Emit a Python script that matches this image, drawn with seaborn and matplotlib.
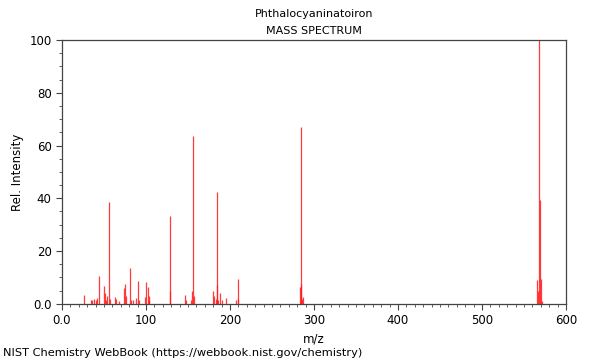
import numpy as np
import pandas as pd
import matplotlib
matplotlib.use('Agg')
import matplotlib.pyplot as plt
import seaborn as sns
from matplotlib.ticker import MultipleLocator, FuncFormatter

mz = [26, 35, 36, 38, 40, 42, 44, 50, 51, 52, 54, 56, 57, 63, 64, 68,
      74, 75, 76, 81, 82, 84, 88, 91, 92, 99, 100, 102, 103, 104,
      128, 129, 146, 148, 154, 155, 156, 157,
      180, 181, 183, 184, 185, 186, 188, 190, 195, 207, 209, 210,
      283, 284, 285, 286, 287,
      566, 567, 568, 569, 570, 571]
intensity = [3.5, 1.3, 1.3, 2.0, 1.6, 2.3, 10.5, 6.8, 4.0, 1.5, 3.0, 38.5, 2.0, 2.5, 2.0, 1.0,
             6.0, 7.6, 2.8, 13.5, 1.3, 1.3, 2.3, 8.5, 1.5, 2.5, 8.2, 6.3, 2.8, 1.3,
             33.3, 4.7, 3.4, 1.3, 1.3, 5.0, 63.5, 3.0,
             4.8, 2.8, 2.0, 42.5, 7.0, 1.3, 4.0, 1.3, 2.3, 1.3, 9.3, 2.0,
             6.5, 67.0, 7.5, 2.0, 2.5,
             9.0, 5.0, 100.0, 39.5, 9.5, 1.0]

df = pd.DataFrame({'mz': mz, 'intensity': intensity})

sns.set_style('ticks')
plt.rcParams['font.family'] = ['DejaVu Sans']
plt.rcParams['text.color'] = 'black'
plt.rcParams['axes.labelcolor'] = 'black'
plt.rcParams['xtick.color'] = 'black'
plt.rcParams['ytick.color'] = 'black'

fig = plt.figure(figsize=(6, 3.6), dpi=100)
ax = fig.add_axes([0.1033, 0.156, 0.8400, 0.733])

ax.vlines(df['mz'], 0, df['intensity'], color='#ff1a1a', lw=0.9, alpha=0.85)

ax.set_xlim(0, 600)
ax.set_ylim(0, 100)
ax.xaxis.set_major_locator(MultipleLocator(100))
ax.xaxis.set_minor_locator(MultipleLocator(10))
ax.yaxis.set_major_locator(MultipleLocator(20))
ax.yaxis.set_minor_locator(MultipleLocator(5))
fmt = FuncFormatter(lambda v, p: '0.0' if v == 0 else f'{v:.0f}')
ax.xaxis.set_major_formatter(fmt)
ax.yaxis.set_major_formatter(fmt)
ax.tick_params(which='major', length=4, labelsize=8.5, color='#444444')
ax.tick_params(which='minor', length=2, color='#444444')
for s in ax.spines.values():
    s.set_color('#444444')
    s.set_linewidth(0.9)

ax.set_xlabel('m/z', fontsize=8.5)
ax.set_ylabel('Rel. Intensity', fontsize=8.5)

fig.text(0.523, 0.962, 'Phthalocyaninatoiron', ha='center', va='center', fontsize=8)
fig.text(0.523, 0.915, 'MASS SPECTRUM', ha='center', va='center', fontsize=8)
fig.text(0.005, 0.019, 'NIST Chemistry WebBook (https://webbook.nist.gov/chemistry)',
         ha='left', va='center', fontsize=8.2)

plt.savefig('out.png', dpi=100)
